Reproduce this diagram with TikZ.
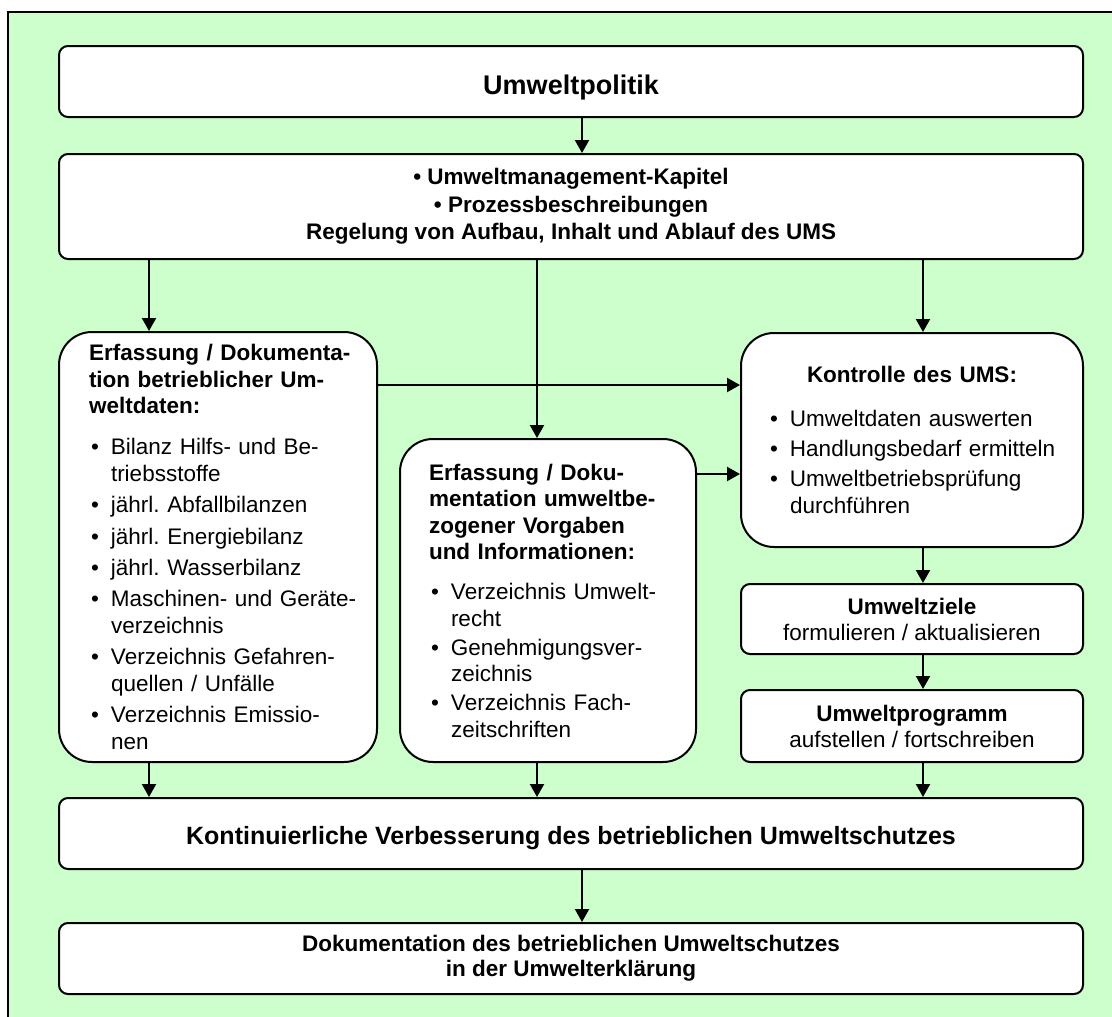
\documentclass[tikz,border=0pt]{standalone}
\usepackage{fontspec}
\setmainfont{Liberation Sans}
\usepackage{tikz}
\usetikzlibrary{arrows.meta}
\definecolor{umweltgruen}{HTML}{CCFFCC}
\frenchspacing
\newcommand{\punkt}[1]{\par\hangindent=22pt\hangafter=1\noindent\makebox[22pt][l]{\hspace{2pt}\textbullet}#1}

\begin{document}
\begin{tikzpicture}[x=1pt,y=-1pt,
	>={Triangle[length=13pt,width=14pt]},
	pfeil/.style={->,line width=2.2pt},
	kasten/.style={draw,fill=white,line width=2pt,rounded corners=9pt,anchor=north west,
		inner sep=0pt,align=center,minimum width=1024,font=\fontsize{22.5}{27.5}\selectfont},
	rundkasten/.style={kasten,rounded corners=33pt,inner xsep=8pt,align=left,
		font=\fontsize{22.5}{26.5}\selectfont}]
	\useasboundingbox (0,0) rectangle (1112,1017);
	\fill[umweltgruen] (8,12) rectangle (1112,1017);
	\draw[line width=2pt] (8,1017) -- (8,12) -- (1112,12);

	\coordinate (spalteA) at (149,0);
	\coordinate (spalteB) at (537,0);
	\coordinate (spalteC) at (923,0);
	\coordinate (spalteD) at (582,0);
	\coordinate (zeileA) at (0,385);
	\coordinate (zeileB) at (0,474);

	\node[kasten,minimum height=71,text height=30pt,text depth=5pt,font=\fontsize{27}{32}\selectfont\bfseries] (politik) at (58,45) {Umweltpolitik};
	\node[kasten,minimum height=105,font=\fontsize{22.5}{27.5}\selectfont\bfseries] (regeln) at (58,153)
		{\textbullet\ Umweltmanagement-Kapitel\\\textbullet\ Prozessbeschreibungen\\Regelung von Aufbau, Inhalt und Ablauf des UMS};

	\node[rundkasten,minimum width=318,minimum height=430,text width=302pt] (links) at (58,331)
		{\parindent=0pt\leftskip=22pt\parskip=4.9pt
		{\bfseries Erfassung / Dokumenta-\newline tion betrieblicher Um-\newline weltdaten:\par}\vspace{9.5pt}
		\punkt{Bilanz Hilfs- und Be-\newline triebsstoffe}
		\punkt{jährl. Abfallbilanzen}
		\punkt{jährl. Energiebilanz}
		\punkt{jährl. Wasserbilanz}
		\punkt{Maschinen- und Geräte-\newline verzeichnis}
		\punkt{Verzeichnis Gefahren-\newline quellen / Unfälle}
		\punkt{Verzeichnis Emissio-\newline nen}\par};
	\node[rundkasten,minimum width=296,minimum height=323,text width=280pt] (mitte) at (399,438)
		{\parindent=0pt\leftskip=21pt\parskip=2.5pt
		{\bfseries Erfassung / Doku-\newline mentation umweltbe-\newline zogener Vorgaben\newline und Informationen:\par}\vspace{11pt}
		\punkt{Verzeichnis Umwelt-\newline recht}
		\punkt{Genehmigungsver-\newline zeichnis}
		\punkt{Verzeichnis Fach-\newline zeitschriften}\par};
	\node[rundkasten,minimum width=342,minimum height=214,text width=326pt] (kontrolle) at (740,332)
		{\parindent=0pt\leftskip=19pt\parskip=3.5pt
		{\centering\bfseries Kontrolle des UMS:\par}\vspace{14pt}
		\punkt{Umweltdaten auswerten}
		\punkt{Handlungsbedarf ermitteln}
		\punkt{Umweltbetriebsprüfung\newline durchführen}\par};

	\node[kasten,minimum width=342,minimum height=70,font=\fontsize{22.5}{26}\selectfont] (ziele) at (740,583)
		{\textbf{Umweltziele}\\formulieren / aktualisieren};
	\node[kasten,minimum width=342,minimum height=72,font=\fontsize{22.5}{26}\selectfont] (programm) at (740,689)
		{\textbf{Umweltprogramm}\\aufstellen / fortschreiben};

	\node[kasten,minimum height=71,text height=26pt,text depth=5pt,font=\fontsize{25}{30}\selectfont\bfseries] (verbesserung) at (58,797)
		{Kontinuierliche Verbesserung des betrieblichen Umweltschutzes};
	\node[kasten,minimum height=71,font=\fontsize{22.5}{25}\selectfont\bfseries] (doku) at (58,922)
		{Dokumentation des betrieblichen Umweltschutzes\\in der Umwelterklärung};

	\draw[pfeil] (politik.south -| spalteD) -- (regeln.north -| spalteD);
	\draw[pfeil] (regeln.south -| spalteA) -- (links.north -| spalteA);
	\draw[pfeil] (regeln.south -| spalteB) -- (mitte.north -| spalteB);
	\draw[pfeil] (regeln.south -| spalteC) -- (kontrolle.north -| spalteC);
	\draw[pfeil] (links.east |- zeileA) -- (kontrolle.west |- zeileA);
	\draw[pfeil] (mitte.east |- zeileB) -- (kontrolle.west |- zeileB);
	\draw[pfeil] (kontrolle.south -| spalteC) -- (ziele.north -| spalteC);
	\draw[pfeil] (ziele.south -| spalteC) -- (programm.north -| spalteC);
	\draw[pfeil] (programm.south -| spalteC) -- (verbesserung.north -| spalteC);
	\draw[pfeil] (links.south -| spalteA) -- (verbesserung.north -| spalteA);
	\draw[pfeil] (mitte.south -| spalteB) -- (verbesserung.north -| spalteB);
	\draw[pfeil] (verbesserung.south -| spalteD) -- (doku.north -| spalteD);
\end{tikzpicture}
\end{document}
